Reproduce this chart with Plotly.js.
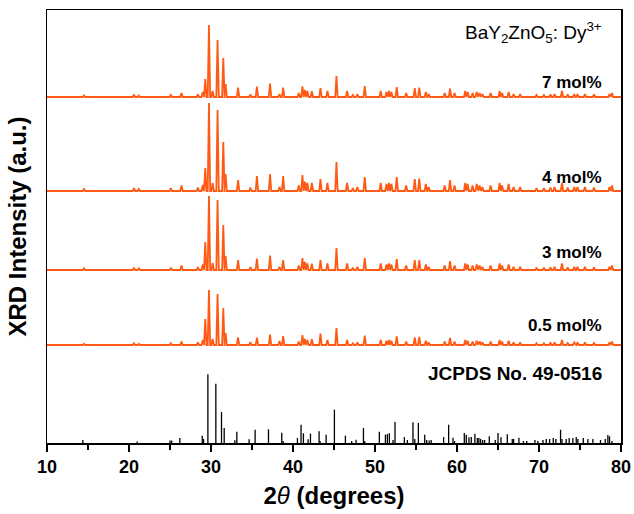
<!DOCTYPE html>
<html>
<head>
<meta charset="utf-8">
<script src="https://cdn.plot.ly/plotly-3.0.1.min.js"></script>
<style>
html,body{margin:0;padding:0;background:#fff;}
#chart{width:634px;height:514px;}
</style>
</head>
<body>
<div id="chart"></div>
<script>
// ---- Data (2θ in degrees, intensities in arbitrary units) ----
const xTickVals = [10, 20, 30, 40, 50, 60, 70, 80];

// Diffraction peak positions of the measured samples
const samplePeakPos = [14.5, 20.6, 21.2, 25.1, 26.4, 28.4, 29.0, 29.3, 29.75, 30.2, 30.8, 31.5, 31.78, 33.3, 34.8,
  35.6, 37.2, 38.35, 38.8, 40.7, 41.15, 41.45, 41.75, 42.3, 43.35, 44.2, 45.3, 46.6, 47.3, 47.85,
  48.75, 50.7, 51.4, 51.7, 52.0, 52.65, 53.8, 54.85, 55.4, 56.2, 56.55, 58.5, 59.15, 59.7, 61.0,
  61.3, 61.9, 62.4, 62.75, 63.1, 64.1, 65.2, 65.5, 66.3, 66.9, 67.7, 69.7, 70.6, 71.4, 71.9,
  72.8, 73.5, 74.3, 74.7, 75.6, 76.7, 78.6, 78.9];

const int_7mol = [1.5, 2, 1.5, 2, 4, 2.5, 5, 18, 72, 6, 57, 39, 13, 9.3, 2.5, 10.3, 13.3, 3, 9.3, 4, 10.7, 7, 6, 5.7, 9, 6, 21, 6, 2, 3,
  11, 6, 5, 6, 5, 10, 4, 9, 9.3, 5, 3, 4, 8.3, 4, 6, 5, 4, 5, 4, 3, 4, 6, 4, 5, 3, 3, 2, 2, 2.5, 3, 6, 2.5, 3, 3, 3, 2.5, 3, 4];
const int_4mol = [2, 3, 2, 3, 5.5, 3.5, 6, 23, 88, 8, 81, 49, 17, 11, 3.5, 15, 17, 4, 15, 5.5, 16, 9.5, 8, 8, 12, 8, 29, 8, 3, 4,
  14, 8, 7, 8, 7, 14, 5.5, 12, 12.5, 7, 4, 5.5, 11, 5.5, 8, 7, 5.5, 7, 5.5, 4, 5.5, 8, 5.5, 7, 4, 4, 3, 3, 3.5, 4, 8, 3.5, 4, 4, 4, 3.5, 4, 5.5];
const int_3mol = [1.7, 2.2, 1.7, 2.2, 4.5, 3, 5.5, 28, 74, 7, 70, 45, 14, 10, 3, 11.5, 14.5, 3.3, 10, 4.5, 12, 8, 6.5, 6.3, 10, 6.5, 22, 6.5, 2.2, 3.3,
  12, 6.5, 5.5, 6.5, 5.5, 11, 4.5, 10, 10, 5.5, 3.3, 4.5, 9, 4.5, 6.5, 5.5, 4.5, 5.5, 4.5, 3.3, 4.5, 6.5, 4.5, 5.5, 3.3, 3.3, 2.2, 2.2, 2.7, 3.3, 6.5, 2.7, 3.3, 3.3, 3.3, 2.7, 3.3, 4.5];
const int_05mol = [1.3, 1.7, 1.3, 1.7, 3.5, 2.5, 5, 26, 55, 6, 51, 37, 12, 7.7, 3, 7.3, 10.3, 4, 9, 3.5, 10, 6, 5, 5.7, 11.3, 5, 17, 5, 1.7, 2.5,
  9.5, 5, 4.3, 5, 4.3, 8.5, 3.5, 7.7, 8, 4.3, 2.5, 3.5, 7, 3.5, 5, 4.3, 3.5, 4.3, 3.5, 2.5, 3.5, 5, 3.5, 4.3, 2.5, 2.5, 1.7, 1.7, 2, 2.5, 5, 2, 2.5, 2.5, 2.5, 2, 2.5, 3.5];

// JCPDS No. 49-0516 reference lines
const jcpdsPos = [14.37, 21.0, 25.0, 25.2, 26.2, 28.93, 29.09, 29.62, 30.59, 31.28, 31.61, 32.91, 33.15, 34.65, 35.38,
  37.01, 38.63, 38.8, 40.54, 40.98, 41.27, 41.84, 42.13, 43.18, 43.3, 44.04, 45.05, 46.39, 47.16, 47.69,
  48.59, 48.75, 50.53, 51.27, 51.51, 51.75, 52.2, 52.44, 53.58, 53.95, 54.63, 54.85, 55.29, 56.06, 56.3,
  56.6, 56.85, 58.37, 58.98, 59.51, 59.7, 60.89, 61.13, 61.46, 61.74, 62.18, 62.48, 62.67, 62.88, 63.13,
  63.37, 63.94, 64.67, 65.0, 65.36, 66.13, 66.74, 66.9, 67.55, 68.1, 68.5, 69.5, 69.87, 70.48, 70.88,
  71.29, 71.74, 72.06, 72.63, 72.8, 73.32, 73.68, 74.13, 74.54, 74.74, 75.4, 75.96, 76.57, 77.5, 78.08,
  78.4, 78.6, 78.9];
const jcpdsInt = [3, 1.5, 2.5, 2.5, 5, 7.3, 4, 68.7, 59.3, 31, 15, 2.7, 11.3, 3.7, 13.3,
  13.7, 10.3, 2, 5, 18.3, 9.7, 3.7, 9.3, 11.7, 2, 8.3, 33.3, 7.3, 2, 3.3,
  15, 2, 11.3, 8.3, 9, 9.7, 3, 21, 6, 3, 20.7, 4, 20, 8.3, 3,
  2.5, 3, 6, 18.3, 5.3, 2, 10, 8.3, 5.7, 6, 9.3, 5, 5, 4, 3,
  3, 6.7, 3, 10, 5.7, 8.7, 4, 4, 5.3, 2, 2, 3, 2, 3, 4,
  4, 5, 4, 13.3, 4, 4, 5, 5, 6, 4, 5, 4, 4, 3, 4,
  8, 6.7, 2];

const seriesLabels = ['7 mol%', '4 mol%', '3 mol%', '0.5 mol%'];
const seriesData = [int_7mol, int_4mol, int_3mol, int_05mol];

// ---- layout / style parameters ----
const stackOffsets = [346, 252, 173, 98];   // vertical stacking of the patterns
const halfWidth = 0.15;                      // drawn half-width of a peak (deg)
const orange = '#ff5a14';
const FONT = 'Arial, "Liberation Sans", sans-serif';

function profile(pos, ints, off) {
  const xs = [10], ys = [off];
  for (let i = 0; i < pos.length; i++) {
    xs.push(pos[i] - halfWidth, pos[i], pos[i] + halfWidth);
    ys.push(off, off + ints[i], off);
  }
  xs.push(80); ys.push(off);
  return {x: xs, y: ys};
}

const traces = [];
seriesData.forEach((ints, k) => {
  const p = profile(samplePeakPos, ints, stackOffsets[k]);
  traces.push({x: p.x, y: p.y, type: 'scatter', mode: 'lines',
    line: {color: orange, width: 1.8}, hoverinfo: 'skip', showlegend: false});
});

// sticks
const sx = [], sy = [];
jcpdsPos.forEach((p, i) => { sx.push(p, p, null); sy.push(0, jcpdsInt[i], null); });
traces.push({x: sx, y: sy, type: 'scatter', mode: 'lines',
  line: {color: '#000', width: 1.3}, hoverinfo: 'skip', showlegend: false});

const labelY = [361, 266, 191, 118];
const annotations = seriesLabels.map((t, k) => ({
  text: '<b>' + t + '</b>', x: 77.9, y: labelY[k], xref: 'x', yref: 'y',
  xanchor: 'right', yanchor: 'middle', showarrow: false,
  font: {family: FONT, size: 17, color: '#000'}
}));
annotations.push({
  text: '<b>JCPDS No. 49-0516</b>', x: 77.9, y: 70, xref: 'x', yref: 'y',
  xanchor: 'right', yanchor: 'middle', showarrow: false,
  font: {family: FONT, size: 19, color: '#000'}
});
annotations.push({
  text: 'BaY<sub>2</sub>ZnO<sub>5</sub>: Dy<sup>3+</sup>', x: 77.9, y: 411, xref: 'x', yref: 'y',
  xanchor: 'right', yanchor: 'middle', showarrow: false,
  font: {family: FONT, size: 19, color: '#000'}
});

const layout = {
  width: 634, height: 514,
  margin: {l: 47, r: 13, t: 10, b: 71},
  paper_bgcolor: '#fff', plot_bgcolor: '#fff',
  showlegend: false,
  xaxis: {
    range: [10, 80], tickvals: xTickVals, ticktext: xTickVals.map(v => '<b>' + v + '</b>'),
    ticks: 'outside', ticklen: 7, tickwidth: 1.5, tickcolor: '#000',
    minor: {dtick: 5, tick0: 10, ticks: 'outside', ticklen: 5, tickwidth: 1.5, tickcolor: '#000', showgrid: false},
    showline: true, mirror: true, linecolor: '#000', linewidth: 1.5,
    showgrid: false, zeroline: false,
    tickfont: {family: FONT, size: 18, color: '#000'},
    title: {text: '<b>2</b><i>θ</i><b> (degrees)</b>', font: {family: FONT, size: 24, color: '#000'}, standoff: 11}
  },
  yaxis: {
    range: [0, 433], showticklabels: false, ticks: '',
    showline: true, mirror: true, linecolor: '#000', linewidth: 1.5,
    showgrid: false, zeroline: false,
    title: {text: '<b>XRD Intensity (a.u.)</b>', font: {family: FONT, size: 24, color: '#000'}, standoff: 12}
  },
  annotations: annotations
};

Plotly.newPlot('chart', traces, layout, {staticPlot: true, displayModeBar: false});
</script>
</body>
</html>
